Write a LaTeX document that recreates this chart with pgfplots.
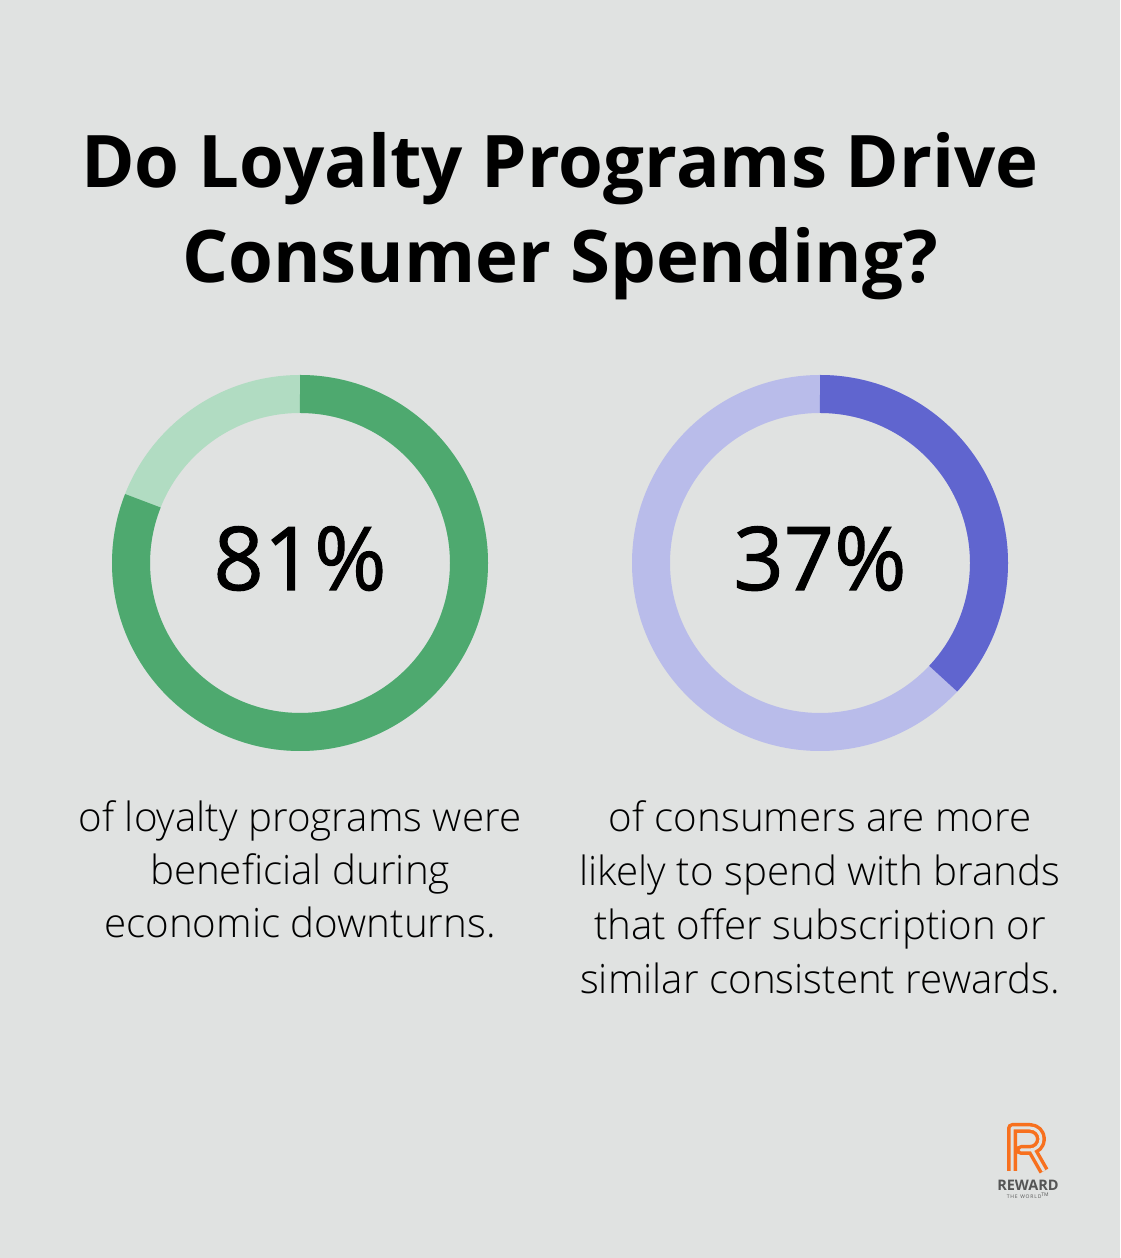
\documentclass[border=0pt]{standalone}
\usepackage{pgfplots}
\pgfplotsset{compat=1.18}
\usepackage{fontspec}
\setmainfont{Open Sans}
\newfontfamily\lightfont{Open Sans Light}
\newfontfamily\medfont[FakeBold=1.2]{Open Sans}
\definecolor{bg}{HTML}{E0E2E1}
\definecolor{gdark}{HTML}{4EA96F}
\definecolor{glight}{HTML}{B1DCC2}
\definecolor{bdark}{HTML}{6065CF}
\definecolor{blight}{HTML}{B9BCEA}
\definecolor{logoorange}{HTML}{F7701E}
\definecolor{logogray}{HTML}{555555}
% values (percent)
\def\valA{81}
\def\valB{37}
\begin{document}
\begin{tikzpicture}
\begin{axis}[hide axis, scale only axis, width=1120pt, height=1258pt,
  xmin=0, xmax=1120, ymin=0, ymax=1258, clip=false]
\fill[bg] (axis cs:0,0) rectangle (axis cs:1120,1258);
% title
\node[anchor=base, font=\fontsize{72.5}{96}\selectfont\bfseries] at (axis cs:560,1070) {Do Loyalty Programs Drive};
\node[anchor=base, font=\fontsize{72.5}{96}\selectfont\bfseries] at (axis cs:560,975) {Consumer Spending?};
% donut 1
\draw[glight, line width=38pt] (axis cs:300,864) arc[start angle=90, end angle=450, radius=169pt];
\draw[gdark, line width=38pt] (axis cs:300,864) arc[start angle=90, end angle={90-3.6*\valA}, radius=169pt];
% donut 2
\draw[blight, line width=38pt] (axis cs:820,864) arc[start angle=90, end angle=450, radius=169pt];
\draw[bdark, line width=38pt] (axis cs:820,864) arc[start angle=90, end angle={90-3.6*\valB}, radius=169pt];
% percentages
\node[anchor=base, font=\medfont\fontsize{88}{100}\selectfont] at (axis cs:300,668) {\valA\%};
\node[anchor=base, font=\medfont\fontsize{88}{100}\selectfont] at (axis cs:820,668) {\valB\%};
% captions
\node[anchor=base, font=\lightfont\fontsize{40.3}{54}\selectfont] at (axis cs:300,426) {of loyalty programs were};
\node[anchor=base, font=\lightfont\fontsize{40.3}{54}\selectfont] at (axis cs:300,373) {beneficial during};
\node[anchor=base, font=\lightfont\fontsize{40.3}{54}\selectfont] at (axis cs:300,320) {economic downturns.};
\node[anchor=base, font=\lightfont\fontsize{40.3}{54}\selectfont] at (axis cs:820,426) {of consumers are more};
\node[anchor=base, font=\lightfont\fontsize{40.3}{54}\selectfont] at (axis cs:820,372) {likely to spend with brands};
\node[anchor=base, font=\lightfont\fontsize{40.3}{54}\selectfont] at (axis cs:820,318) {that offer subscription or};
\node[anchor=base, font=\lightfont\fontsize{40.3}{54}\selectfont] at (axis cs:820,264) {similar consistent rewards.};
% logo
\draw[logoorange, line width=10pt, line join=round] (axis cs:1012,87) -- (axis cs:1012,130) -- (axis cs:1030,130) arc[start angle=90, end angle=-90, radius=11pt] -- (axis cs:1021,108) -- (axis cs:1032,108) -- (axis cs:1044,87);
\draw[bg, line width=3pt, line join=round] (axis cs:1012,87) -- (axis cs:1012,130) -- (axis cs:1030,130) arc[start angle=90, end angle=-90, radius=11pt] -- (axis cs:1021,108) -- (axis cs:1032,108) -- (axis cs:1044,87);
\node[anchor=base, inner sep=0pt, font=\fontsize{14.5}{16}\selectfont\bfseries, text=logogray] at (axis cs:1028,67) {REWARD};
\node[anchor=base, inner sep=0pt, font=\fontsize{5}{6}\selectfont, text=logogray] at (axis cs:1028,59) {T\,H\,E\ \ W\,O\,R\,L\,D\textsuperscript{TM}};
\end{axis}
\end{tikzpicture}
\end{document}
